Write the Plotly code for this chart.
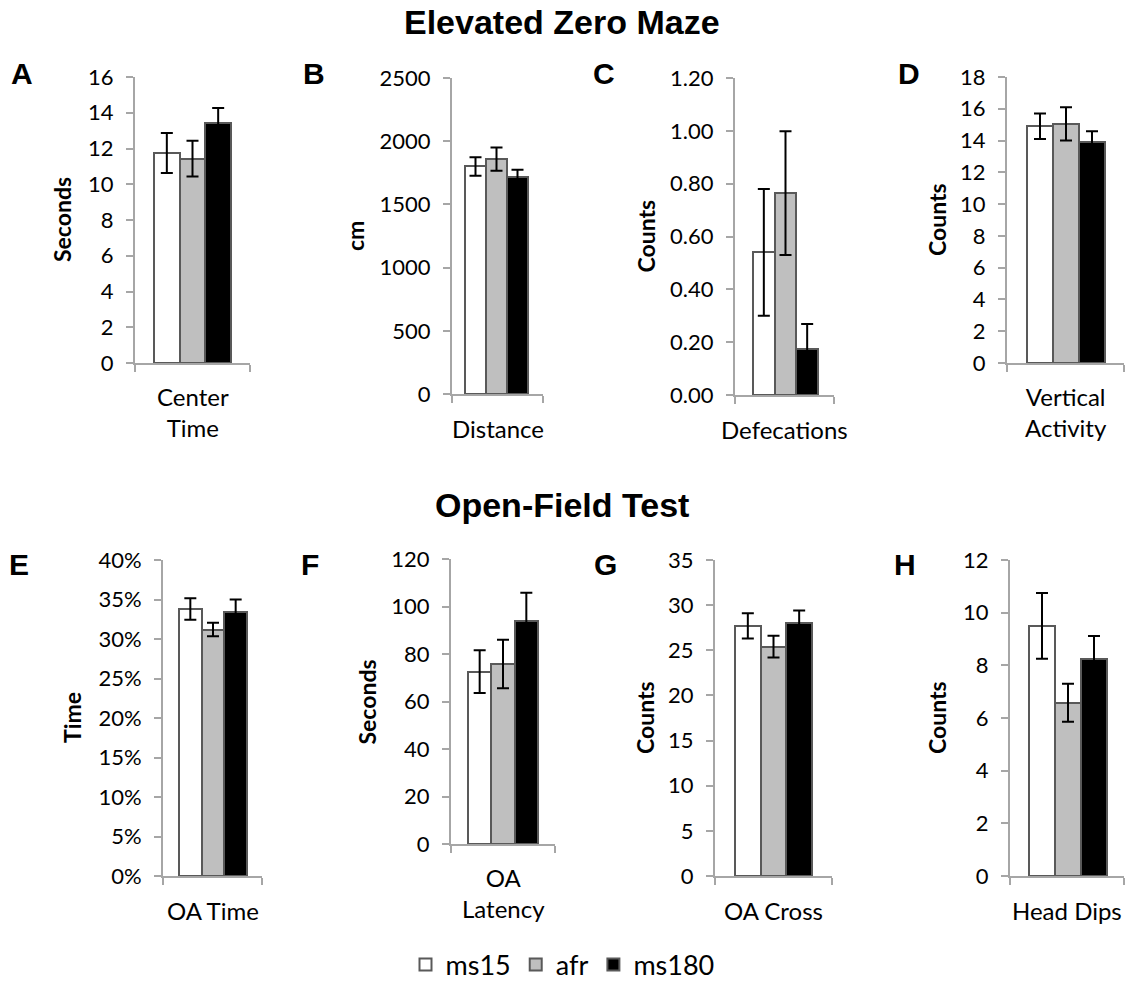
import plotly.graph_objects as go

# ---------------- data ----------------
categories = ["Center<br>Time", "Distance", "Defecations", "Vertical<br>Activity",
              "OA Time", "OA<br>Latency", "OA Cross", "Head Dips"]
y_titles = ["Seconds", "cm", "Counts", "Counts", "Time", "Seconds", "Counts", "Counts"]
panel_letters = ["A", "B", "C", "D", "E", "F", "G", "H"]
series_names = ["ms15", "afr", "ms180"]

ms15_mean = [11.75, 1800, 0.54, 14.9, 0.338, 72.6, 27.7, 9.5]
ms15_sem = [1.12, 74, 0.24, 0.80, 0.0135, 9.0, 1.4, 1.25]
afr_mean = [11.44, 1858, 0.764, 15.05, 0.312, 75.8, 25.4, 6.58]
afr_sem = [1.0, 92, 0.234, 1.05, 0.0085, 10.2, 1.2, 0.72]
ms180_mean = [13.43, 1713, 0.173, 13.9, 0.334, 93.9, 28.0, 8.24]
ms180_sem = [0.84, 61, 0.096, 0.68, 0.016, 11.9, 1.4, 0.87]

y_max = [16, 2500, 1.2, 18, 0.4, 120, 35, 12]
y_dtick = [2, 500, 0.2, 2, 0.05, 20, 5, 2]
y_format = ["d", "d", ".2f", "d", ".0%", "d", "d", "d"]

section_titles = ["Elevated Zero Maze", "Open-Field Test"]

# ---------------- layout geometry (pixels) ----------------
W, H = 1125, 982
# axis x-extent, bar group x-extent, y-extent (top, zero)
geom = [
    ((135, 250), (154, 231), (77, 363)),
    ((452, 543), (465, 528), (78, 394)),
    ((735, 834), (753, 818), (78, 395)),
    ((1007, 1124), (1027, 1105), (77, 363)),
    ((163, 262), (179, 247), (560, 876)),
    ((451, 555), (468, 538), (559, 844)),
    ((715, 832), (735, 812), (560, 876)),
    ((1010, 1124), (1029, 1107), (560, 876)),
]
ytitle_x = [62, 355, 645, 937, 72, 366, 645, 937]
letter_pos = [(22, 73), (314, 73), (604, 73), (909, 73),
              (19, 564), (310, 564), (605, 564), (905, 564)]
title_pos = [(562, 22), (562, 505)]

fills = ["#ffffff", "#bfbfbf", "#000000"]
edge = "#595959"
axis_gray = "#a6a6a6"
tick_font = dict(family="Lato", size=22, color="black")
label_font = dict(family="Lato", size=24, color="black")

means = [ms15_mean, afr_mean, ms180_mean]
sems = [ms15_sem, afr_sem, ms180_sem]


def px_x(v):
    return v / W


def px_y(v):
    return 1 - v / H


fig = go.Figure()
annotations = []
layout = {}

for i in range(8):
    sfx = "" if i == 0 else str(i + 1)
    (a0, a1), (g0, g1), (yt, yb) = geom[i]
    w = g1 - g0
    r0 = -0.5 - (g0 - a0) / w
    r1 = 0.5 + (a1 - g1) / w
    for s in range(3):
        fig.add_trace(go.Bar(
            x=[0], y=[means[s][i]],
            name=series_names[s], legendgroup=series_names[s],
            showlegend=(i == 0),
            marker=dict(color=fills[s], line=dict(color=edge, width=2)),
            error_y=dict(type="data", array=[sems[s][i]], color="black",
                         thickness=2, width=6),
            xaxis="x" + sfx, yaxis="y" + sfx,
            hoverinfo="skip",
        ))
    layout["xaxis" + sfx] = dict(
        domain=[px_x(a0), px_x(a1)], anchor="y" + sfx, range=[r0, r1],
        showline=True, linecolor=axis_gray, linewidth=2,
        tickvals=[r0, r1], ticktext=["", ""], ticks="outside", ticklen=7,
        tickcolor=axis_gray, tickwidth=2,
        showgrid=False, zeroline=False, fixedrange=True,
    )
    layout["yaxis" + sfx] = dict(
        domain=[px_y(yb), px_y(yt)], anchor="x" + sfx,
        range=[0, y_max[i]], tick0=0, dtick=y_dtick[i], tickformat=y_format[i],
        showline=True, linecolor=axis_gray, linewidth=2,
        ticks="outside", ticklen=7, tickcolor=axis_gray, tickwidth=2,
        ticklabelstandoff=8,
        tickfont=tick_font, showgrid=False, zeroline=False, fixedrange=True,
    )
    # category label below the axis
    nlines = categories[i].count("<br>") + 1
    cy = yb + 34 + (nlines - 1) * 14.5
    annotations.append(dict(
        text=categories[i], x=px_x((a0 + a1) / 2), y=px_y(cy),
        xref="paper", yref="paper", xanchor="center", yanchor="middle",
        showarrow=False, font=label_font,
    ))
    # y axis title
    annotations.append(dict(
        text="<b>" + y_titles[i] + "</b>", x=px_x(ytitle_x[i]), y=px_y((yt + yb) / 2),
        xref="paper", yref="paper", xanchor="center", yanchor="middle",
        textangle=-90, showarrow=False,
        font=dict(family="Lato", size=23, color="black"),
    ))
    # panel letter
    lx, ly = letter_pos[i]
    annotations.append(dict(
        text="<b>" + panel_letters[i] + "</b>", x=px_x(lx), y=px_y(ly),
        xref="paper", yref="paper", xanchor="center", yanchor="middle",
        showarrow=False,
        font=dict(family="Liberation Sans", size=30, color="black"),
    ))

for t, (tx, ty) in zip(section_titles, title_pos):
    annotations.append(dict(
        text="<b>" + t + "</b>", x=px_x(tx), y=px_y(ty),
        xref="paper", yref="paper", xanchor="center", yanchor="middle",
        showarrow=False,
        font=dict(family="Liberation Sans", size=34, color="black"),
    ))

fig.update_layout(
    width=W, height=H,
    margin=dict(l=0, r=0, t=0, b=0, autoexpand=False),
    paper_bgcolor="white", plot_bgcolor="white",
    barmode="group", bargap=0, bargroupgap=0,
    annotations=annotations,
    legend=dict(orientation="h", x=0.5, xanchor="center",
                y=px_y(965), yanchor="middle",
                font=dict(family="Lato", size=27, color="black"),
                itemwidth=30, bgcolor="rgba(0,0,0,0)"),
    **layout,
)

fig.write_html("out.html")
